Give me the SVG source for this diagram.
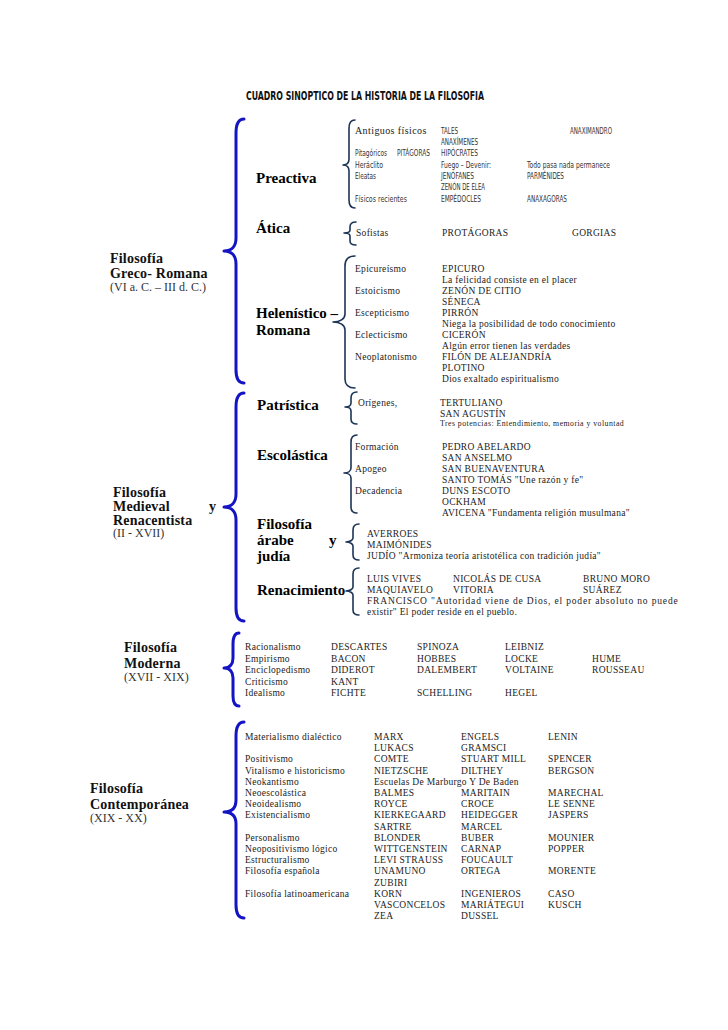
<svg xmlns="http://www.w3.org/2000/svg" width="728" height="1030" viewBox="0 0 728 1030">
<style>
text{font-family:"Liberation Serif","Times New Roman",serif;fill:#222}
.t{font-size:9.5px;letter-spacing:0.3px}
.sm{font-size:7.8px;letter-spacing:0.3px}
.c{font-family:"DejaVu Sans Condensed","DejaVu Sans",sans-serif;font-stretch:condensed;font-size:8.5px;fill:#333}
.ttl{font-family:"DejaVu Sans Condensed","DejaVu Sans",sans-serif;font-stretch:condensed;font-weight:bold;font-size:12px;fill:#111}
.h{font-size:15px;font-weight:bold;fill:#000}
.L{font-size:14px;font-weight:bold;fill:#111;letter-spacing:0.2px}
.Ln{font-size:12px;fill:#333}
.big{fill:none;stroke:#1414c4;stroke-width:3;stroke-linecap:round;stroke-linejoin:round}
.sb{fill:none;stroke:#1c3557;stroke-width:1.6;stroke-linecap:round;stroke-linejoin:round}
</style>
<rect width="728" height="1030" fill="#fff"/>
<text class="ttl" x="246" y="99.5" textLength="238" lengthAdjust="spacingAndGlyphs">CUADRO SINOPTICO DE LA HISTORIA DE LA FILOSOFIA</text>

<g id="connectors">
<path class="big" d="M244,119 C238,119 236,124 236,133 L236,238 C236,246 232,251 224,251 C232,251 236,256 236,264 L236,370 C236,378 238,383 244,383"/>
<path class="big" d="M244,393 C238,393 236,398 236,407 L236,494 C236,502 232,507 224,507 C232,507 236,512 236,520 L236,608 C236,616 238,621 244,621"/>
<path class="big" d="M239,633 C235,633 233,637 233,644 L233,658 C233,664 230,668 224,668 C230,668 233,672 233,678 L233,696 C233,703 235,706 239,706"/>
<path class="big" d="M244,722 C238,722 236,727 236,736 L236,800 C236,808 232,812 224,812 C232,812 236,816 236,824 L236,905 C236,913 238,918 244,918"/>
<path class="sb" d="M355,120 C351,120 349,123 349,128 L349,159 C349,163 347,165 343,165 C347,165 349,167 349,171 L349,200 C349,205 351,208 355,208"/>
<path class="sb" d="M356,222 C352,222 350,224 350,227 L350,230 C350,232 348,233 344,233 C348,233 350,234 350,236 L350,241 C350,244 352,245 356,245"/>
<path class="sb" d="M355,256 C349,256 345,259 345,266 L345,314 C345,319 340,322 333,322 C340,322 345,325 345,330 L345,379 C345,385 349,388 355,388"/>
<path class="sb" d="M357,392 C353,392 351,394 351,398 L351,403 C351,405 349,407 345,407 C349,407 351,409 351,411 L351,419 C351,422 353,424 357,424"/>
<path class="sb" d="M357,435 C353,435 351,438 351,442 L351,468 C351,471 348,473 344,473 C348,473 351,475 351,478 L351,507 C351,511 353,513 357,513"/>
<path class="sb" d="M359,524 C355,524 353,526 353,530 L353,538 C353,540 350,542 346,542 C350,542 353,544 353,546 L353,555 C353,558 355,560 359,560"/>
<path class="sb" d="M359,568 C355,568 353,570 353,574 L353,587 C353,589 350,591 346,591 C350,591 353,593 353,595 L353,610 C353,613 355,615 359,615"/>
</g>

<g id="greco-romana">
<text class="L" x="110" y="263">Filosofía</text>
<text class="L" x="110" y="278">Greco- Romana</text>
<text class="Ln" x="110" y="291">(VI a. C. – III d. C.)</text>
</g>

<g id="preactiva">
<text class="h" x="256" y="183">Preactiva</text>
<text x="355" y="134" style="font-size:10px;letter-spacing:0.4px">Antiguos físicos</text>
<text class="c" x="441" y="134" textLength="17" lengthAdjust="spacingAndGlyphs">TALES</text>
<text class="c" x="570" y="134" textLength="42" lengthAdjust="spacingAndGlyphs">ANAXIMANDRO</text>
<text class="c" x="441" y="145" textLength="37" lengthAdjust="spacingAndGlyphs">ANAXÍMENES</text>
<text class="c" x="355" y="156" textLength="32" lengthAdjust="spacingAndGlyphs">Pitagóricos</text>
<text class="c" x="397" y="156" textLength="33" lengthAdjust="spacingAndGlyphs">PITÁGORAS</text>
<text class="c" x="441" y="156" textLength="37" lengthAdjust="spacingAndGlyphs">HIPÓCRATES</text>
<text class="c" x="355" y="168" textLength="28" lengthAdjust="spacingAndGlyphs">Heráclito</text>
<text class="c" x="441" y="168" textLength="50" lengthAdjust="spacingAndGlyphs">Fuego – Devenir:</text>
<text class="c" x="527" y="168" textLength="83" lengthAdjust="spacingAndGlyphs">Todo pasa nada permanece</text>
<text class="c" x="355" y="179" textLength="21" lengthAdjust="spacingAndGlyphs">Eleatas</text>
<text class="c" x="441" y="179" textLength="33" lengthAdjust="spacingAndGlyphs">JENÓFANES</text>
<text class="c" x="527" y="179" textLength="37" lengthAdjust="spacingAndGlyphs">PARMÉNIDES</text>
<text class="c" x="441" y="190" textLength="44" lengthAdjust="spacingAndGlyphs">ZENÓN DE ELEA</text>
<text class="c" x="355" y="202" textLength="52" lengthAdjust="spacingAndGlyphs">Físicos recientes</text>
<text class="c" x="441" y="202" textLength="40" lengthAdjust="spacingAndGlyphs">EMPÉDOCLES</text>
<text class="c" x="527" y="202" textLength="40" lengthAdjust="spacingAndGlyphs">ANAXAGORAS</text>
</g>

<g id="atica">
<text class="h" x="256" y="233">Ática</text>
<text class="t" x="356" y="235.5">Sofistas</text>
<text class="t" x="442" y="235.5">PROTÁGORAS</text>
<text class="t" x="572" y="235.5">GORGIAS</text>
</g>

<g id="helenistico">
<text class="h" x="256" y="318">Helenístico –</text>
<text class="h" x="256" y="335">Romana</text>
<text class="t" x="355" y="271.5">Epicureísmo</text>
<text class="t" x="442" y="271.5">EPICURO</text>
<text class="t" x="442" y="282.5">La felicidad consiste en el placer</text>
<text class="t" x="355" y="293.6">Estoicismo</text>
<text class="t" x="442" y="293.6">ZENÓN DE CITIO</text>
<text class="t" x="442" y="304.6">SÉNECA</text>
<text class="t" x="355" y="315.7">Escepticismo</text>
<text class="t" x="442" y="315.7">PIRRÓN</text>
<text class="t" x="442" y="326.7">Niega la posibilidad de todo conocimiento</text>
<text class="t" x="355" y="337.8">Eclecticismo</text>
<text class="t" x="442" y="337.8">CICERÓN</text>
<text class="t" x="442" y="348.8">Algún error tienen las verdades</text>
<text class="t" x="355" y="359.9">Neoplatonismo</text>
<text class="t" x="442" y="359.9">FILÓN DE ALEJANDRÍA</text>
<text class="t" x="442" y="370.9">PLOTINO</text>
<text class="t" x="442" y="382">Dios exaltado espiritualismo</text>
</g>

<g id="medieval">
<text class="L" x="113" y="497">Filosofía</text>
<text class="L" x="113" y="511">Medieval</text>
<text class="L" x="209" y="511">y</text>
<text class="L" x="113" y="525">Renacentista</text>
<text class="Ln" x="113" y="537">(II - XVII)</text>
</g>

<g id="patristica">
<text class="h" x="257" y="410">Patrística</text>
<text class="t" x="358" y="405.5">Orígenes,</text>
<text class="t" x="440" y="405.5">TERTULIANO</text>
<text class="t" x="440" y="416.5">SAN AGUSTÍN</text>
<text class="sm" x="440" y="426" textLength="184">Tres potencias: Entendimiento, memoria  y voluntad</text>
</g>

<g id="escolastica">
<text class="h" x="257" y="460">Escolástica</text>
<text class="t" x="355" y="449.5">Formación</text>
<text class="t" x="442" y="449.5">PEDRO ABELARDO</text>
<text class="t" x="442" y="460.5">SAN ANSELMO</text>
<text class="t" x="355" y="471.5">Apogeo</text>
<text class="t" x="442" y="471.5">SAN BUENAVENTURA</text>
<text class="t" x="442" y="482.5">SANTO TOMÁS "Une razón y fe"</text>
<text class="t" x="355" y="493.5">Decadencia</text>
<text class="t" x="442" y="493.5">DUNS ESCOTO</text>
<text class="t" x="442" y="504.5">OCKHAM</text>
<text class="t" x="442" y="515.5">AVICENA "Fundamenta religión musulmana"</text>
</g>

<g id="arabe">
<text class="h" x="257" y="529">Filosofía</text>
<text class="h" x="257" y="545">árabe</text>
<text class="h" x="329" y="545">y</text>
<text class="h" x="257" y="561">judía</text>
<text class="t" x="367" y="536.5">AVERROES</text>
<text class="t" x="367" y="547.5">MAIMÓNIDES</text>
<text class="t" x="367" y="558.5">JUDÍO "Armoniza teoría aristotélica con tradición judía"</text>
</g>

<g id="renacimiento">
<text class="h" x="257" y="595">Renacimiento</text>
<text class="t" x="367" y="581.5">LUIS VIVES</text>
<text class="t" x="453" y="581.5">NICOLÁS DE CUSA</text>
<text class="t" x="583" y="581.5">BRUNO MORO</text>
<text class="t" x="367" y="592.5">MAQUIAVELO</text>
<text class="t" x="453" y="592.5">VITORIA</text>
<text class="t" x="583" y="592.5">SUÁREZ</text>
<text class="t" x="367" y="603.5" textLength="311">FRANCISCO "Autoridad viene de Dios, el poder absoluto no puede</text>
<text class="t" x="367" y="614.5">existir" El poder reside en el pueblo.</text>
</g>

<g id="moderna">
<text class="L" x="124" y="652">Filosofía</text>
<text class="L" x="124" y="668">Moderna</text>
<text class="Ln" x="124" y="681">(XVII - XIX)</text>
<text class="t" x="245" y="650">Racionalismo</text>
<text class="t" x="331" y="650">DESCARTES</text>
<text class="t" x="417" y="650">SPINOZA</text>
<text class="t" x="505" y="650">LEIBNIZ</text>
<text class="t" x="245" y="661.5">Empirismo</text>
<text class="t" x="331" y="661.5">BACON</text>
<text class="t" x="417" y="661.5">HOBBES</text>
<text class="t" x="505" y="661.5">LOCKE</text>
<text class="t" x="592" y="661.5">HUME</text>
<text class="t" x="245" y="673">Enciclopedismo</text>
<text class="t" x="331" y="673">DIDEROT</text>
<text class="t" x="417" y="673">DALEMBERT</text>
<text class="t" x="505" y="673">VOLTAINE</text>
<text class="t" x="592" y="673">ROUSSEAU</text>
<text class="t" x="245" y="684.5">Criticismo</text>
<text class="t" x="331" y="684.5">KANT</text>
<text class="t" x="245" y="696">Idealismo</text>
<text class="t" x="331" y="696">FICHTE</text>
<text class="t" x="417" y="696">SCHELLING</text>
<text class="t" x="505" y="696">HEGEL</text>
</g>

<g id="contemporanea">
<text class="L" x="90" y="793">Filosofía</text>
<text class="L" x="90" y="809">Contemporánea</text>
<text class="Ln" x="90" y="822">(XIX - XX)</text>
<text class="t" x="245" y="740">Materialismo dialéctico</text>
<text class="t" x="374" y="740">MARX</text>
<text class="t" x="461" y="740">ENGELS</text>
<text class="t" x="548" y="740">LENIN</text>
<text class="t" x="374" y="751.2">LUKACS</text>
<text class="t" x="461" y="751.2">GRAMSCI</text>
<text class="t" x="245" y="762.4">Positivismo</text>
<text class="t" x="374" y="762.4">COMTE</text>
<text class="t" x="461" y="762.4">STUART MILL</text>
<text class="t" x="548" y="762.4">SPENCER</text>
<text class="t" x="245" y="773.6">Vitalismo e historicismo</text>
<text class="t" x="374" y="773.6">NIETZSCHE</text>
<text class="t" x="461" y="773.6">DILTHEY</text>
<text class="t" x="548" y="773.6">BERGSON</text>
<text class="t" x="245" y="784.8">Neokantismo</text>
<text class="t" x="374" y="784.8">Escuelas De Marburgo Y De Baden</text>
<text class="t" x="245" y="796">Neoescolástica</text>
<text class="t" x="374" y="796">BALMES</text>
<text class="t" x="461" y="796">MARITAIN</text>
<text class="t" x="548" y="796">MARECHAL</text>
<text class="t" x="245" y="807.1">Neoidealismo</text>
<text class="t" x="374" y="807.1">ROYCE</text>
<text class="t" x="461" y="807.1">CROCE</text>
<text class="t" x="548" y="807.1">LE  SENNE</text>
<text class="t" x="245" y="818.3">Existencialismo</text>
<text class="t" x="374" y="818.3">KIERKEGAARD</text>
<text class="t" x="461" y="818.3">HEIDEGGER</text>
<text class="t" x="548" y="818.3">JASPERS</text>
<text class="t" x="374" y="829.5">SARTRE</text>
<text class="t" x="461" y="829.5">MARCEL</text>
<text class="t" x="245" y="840.7">Personalismo</text>
<text class="t" x="374" y="840.7">BLONDER</text>
<text class="t" x="461" y="840.7">BUBER</text>
<text class="t" x="548" y="840.7">MOUNIER</text>
<text class="t" x="245" y="851.9">Neopositivismo lógico</text>
<text class="t" x="374" y="851.9">WITTGENSTEIN</text>
<text class="t" x="461" y="851.9">CARNAP</text>
<text class="t" x="548" y="851.9">POPPER</text>
<text class="t" x="245" y="863.1">Estructuralismo</text>
<text class="t" x="374" y="863.1">LEVI STRAUSS</text>
<text class="t" x="461" y="863.1">FOUCAULT</text>
<text class="t" x="245" y="874.3">Filosofía española</text>
<text class="t" x="374" y="874.3">UNAMUNO</text>
<text class="t" x="461" y="874.3">ORTEGA</text>
<text class="t" x="548" y="874.3">MORENTE</text>
<text class="t" x="374" y="885.5">ZUBIRI</text>
<text class="t" x="245" y="896.7">Filosofía latinoamericana</text>
<text class="t" x="374" y="896.7">KORN</text>
<text class="t" x="461" y="896.7">INGENIEROS</text>
<text class="t" x="548" y="896.7">CASO</text>
<text class="t" x="374" y="907.9">VASCONCELOS</text>
<text class="t" x="461" y="907.9">MARIÁTEGUI</text>
<text class="t" x="548" y="907.9">KUSCH</text>
<text class="t" x="374" y="919.1">ZEA</text>
<text class="t" x="461" y="919.1">DUSSEL</text>
</g>
</svg>
